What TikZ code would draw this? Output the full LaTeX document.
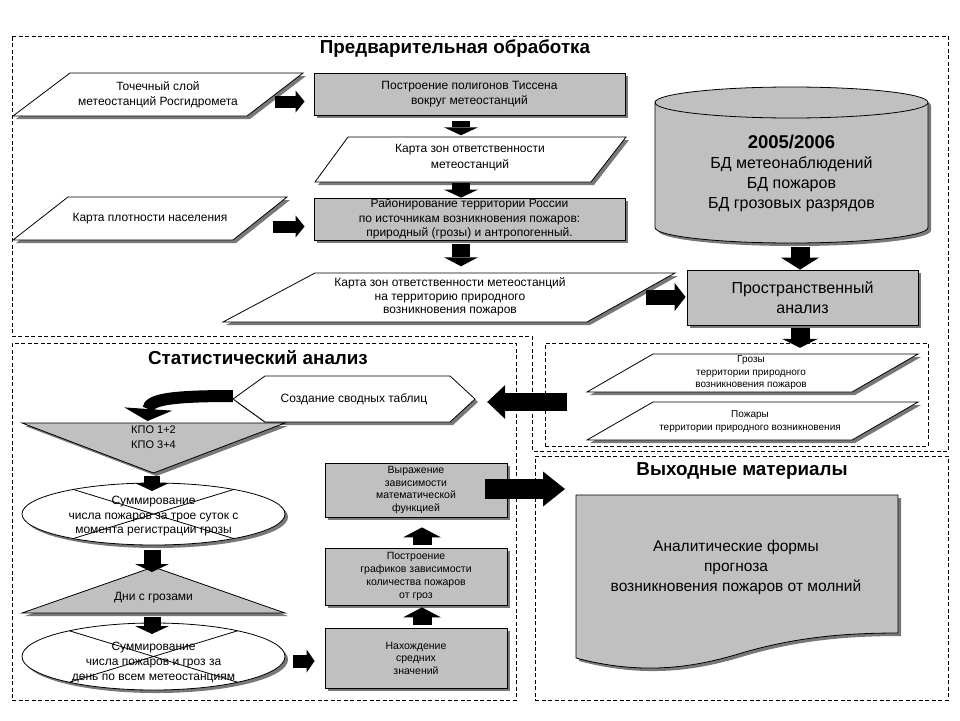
\documentclass[tikz,border=0pt]{standalone}
\usepackage{fontspec}
\setmainfont{Liberation Sans}
\usetikzlibrary{arrows.meta,shadows,shapes.geometric,calc}
\definecolor{boxgrey}{RGB}{192,192,192}
\definecolor{shgrey}{RGB}{120,120,120}
\newcommand\fsz[2]{\fontsize{#1}{#2}\selectfont}
\begin{document}
\begin{tikzpicture}[x=1pt,y=-1pt,
 shd/.style={drop shadow={shadow xshift=3pt,shadow yshift=-3pt,fill=shgrey,opacity=1}},
 gshape/.style={draw=black,line width=0.8pt,fill=boxgrey,shd},
 wshape/.style={draw=black,line width=0.8pt,fill=white,shd},
 gbox/.style={gshape,rectangle,inner sep=0pt,align=center},
 lbl/.style={align=center,inner sep=0pt},
 ghost/.style={inner sep=0pt,outer sep=0pt},
 frame/.style={draw=black,line width=0.8pt,dash pattern=on 4pt off 2.5pt},
 ttl/.style={font=\bfseries\fsz{18.8}{21},inner sep=0pt},
 blk/.style n args={3}{draw=black,line width=#1,-{Triangle[width=#2,length=#3,line width=0pt]}},
]
\useasboundingbox (0,0) rectangle (960,720);
\fill[white] (0,0) rectangle (960,720);

% ---------- frames ----------
\draw[frame] (12,36) -- (948,36) -- (948,451) -- (532,451) -- (532,336) -- (12,336) -- cycle;
\node[frame,ghost,minimum width=504pt,minimum height=357pt] (statf) at (264,521.5) {};
\node[frame,ghost,minimum width=383pt,minimum height=103pt] (grozf) at (736.5,394.5) {};
\node[frame,ghost,minimum width=413pt,minimum height=244pt] (outf) at (741.5,578) {};

% ---------- titles ----------
\node[ttl] (ttlA) at (455,49) {Предварительная обработка};
\node[ttl] (ttlB) at (258,358) {Статистический анализ};
\node[ttl] (ttlC) at (742,471) {Выходные материалы};

% ---------- top section ----------
\filldraw[wshape] (13,116) -- (70,73) -- (303,73) -- (247,116) -- cycle;
\node[lbl,font=\fsz{12}{15},minimum width=233pt,minimum height=43pt] (p1) at (158,95) {Точечный слой\\метеостанций Росгидромета};

\node[gbox,font=\fsz{12}{15},minimum width=311pt,minimum height=42pt] (tis) at (469.5,94) {Построение полигонов Тиссена\\вокруг метеостанций};

\filldraw[wshape] (315,182) -- (348,137) -- (626,137) -- (591,182) -- cycle;
\node[lbl,font=\fsz{12}{16},minimum width=277pt,minimum height=45pt] (p2) at (470,158) {Карта зон ответственности\\метеостанций};

\node[gbox,font=\fsz{12}{14.5},minimum width=311pt,minimum height=42pt] (rai) at (469.5,219) {Районирование территории России\\по источникам возникновения пожаров:\\природный (грозы) и антропогенный.};

\filldraw[wshape] (13,240) -- (68,197) -- (287,197) -- (233,240) -- cycle;
\node[lbl,font=\fsz{12}{15},minimum width=219pt,minimum height=43pt] (p3) at (150,219) {Карта плотности населения};

\filldraw[wshape] (223,322) -- (315,273) -- (675,273) -- (587,322) -- cycle;
\node[lbl,font=\fsz{12}{13.5},minimum width=362pt,minimum height=49pt] (p4) at (450,297) {Карта зон ответственности метеостанций\\на территорию природного\\возникновения пожаров};

\node[gbox,font=\fsz{16}{20},minimum width=231pt,minimum height=55pt] (spa) at (802.5,297.5) {Пространственный\\анализ};

% cylinder
\node[ghost,minimum width=273pt,minimum height=156pt] (dbshape) at (791.5,165) {};
\filldraw[gshape] (655,102.5) -- (655,227.5) .. controls (655,236.06) and (716.1,243) .. (791.5,243) .. controls (866.9,243) and (928,236.06) .. (928,227.5) -- (928,102.5) .. controls (928,93.94) and (866.9,87) .. (791.5,87) .. controls (716.1,87) and (655,93.94) .. (655,102.5) -- cycle;
\draw[line width=0.8pt] (655,102.5) .. controls (655,111.06) and (716.1,118) .. (791.5,118) .. controls (866.9,118) and (928,111.06) .. (928,102.5);
\node[lbl,font=\fsz{16}{20}] (db) at (791.5,173.5) {{\bfseries\fsz{18.5}{20}2005/2006}\\БД метеонаблюдений\\БД пожаров\\БД грозовых разрядов};

% right parallelograms
\filldraw[wshape] (587,392) -- (653,354) -- (918,354) -- (852,392) -- cycle;
\node[lbl,font=\fsz{10}{12.5},minimum width=265pt,minimum height=38pt] (p5) at (751,373) {Грозы\\территории природного\\возникновения пожаров};
\filldraw[wshape] (587,440) -- (653,402) -- (918,402) -- (852,440) -- cycle;
\node[lbl,font=\fsz{10}{13},minimum width=265pt,minimum height=38pt] (p6) at (750,421.5) {Пожары\\территории природного возникновения};

% top arrows
\draw[blk={12pt}{22pt}{9pt},shorten >=9pt] ([yshift=-6.5pt]p1.east) -- ([yshift=-6.5pt]p1.east -| tis.west);
\draw[blk={12pt}{22pt}{9pt},shorten >=9pt] ([xshift=13pt,yshift=-7.5pt]p3.east) -- ([yshift=-7.5pt]p3.east -| rai.west);
\draw[blk={18pt}{34pt}{8pt},shorten <=6pt] ([xshift=-8.5pt]tis.south) -- ([xshift=-8.5pt]tis.south |- p2.north);
\draw[blk={18pt}{34pt}{8pt},shorten <=2pt] ([xshift=-9pt]p2.south) -- ([xshift=-9pt]p2.south |- rai.north);
\draw[blk={18pt}{34pt}{9pt},shorten <=4pt,shorten >=6pt] ([xshift=-8.5pt]rai.south) -- ([xshift=-8.5pt]rai.south |- p4.north);
\draw[blk={15pt}{28pt}{11pt},shorten <=15pt,shorten >=1pt] (p4.east) -- (p4.east -| spa.west);
\draw[blk={19pt}{38pt}{12pt},shorten <=4pt] ([xshift=8.5pt]dbshape.south) -- ([xshift=8.5pt]dbshape.south |- spa.north);
\draw[blk={19pt}{36pt}{9pt},shorten <=3pt,shorten >=6pt] ([xshift=-2.5pt]spa.south) -- ([xshift=-2.5pt]spa.south |- p5.north);

% ---------- statistics section ----------
\filldraw[wshape] (233,399) -- (265,376) -- (450,376) -- (475,399) -- (450,422) -- (265,422) -- cycle;
\node[lbl,font=\fsz{12}{15},minimum width=242pt,minimum height=46pt] (hex) at (354,399) {Создание сводных таблиц};

\node[ghost,minimum width=263pt,minimum height=50pt] (tri1) at (153.5,448) {};
\filldraw[gshape] (tri1.north west) -- (tri1.north east) -- (tri1.south) -- cycle;
\node[lbl,font=\fsz{11}{15}] (kpo) at (153.5,437.5) {КПО 1+2\\КПО 3+4};

\node[wshape,ellipse,ghost,minimum width=263pt,minimum height=62pt] (ell1) at (153.5,514) {};
\draw[line width=0.8pt] (ell1.163) -- (ell1.-17) (ell1.-163) -- (ell1.17);
\node[lbl,font=\fsz{12}{14.5}] (s1) at (153.5,516.5) {Суммирование\\числа пожаров за трое суток с\\момента регистрации грозы};

\node[ghost,minimum width=263pt,minimum height=46pt] (tri2) at (153.5,590) {};
\filldraw[gshape] (tri2.north) -- (tri2.south east) -- (tri2.south west) -- cycle;
\node[lbl,font=\fsz{12}{15}] (dni) at (153.5,598) {Дни с грозами};

\node[wshape,ellipse,ghost,minimum width=263pt,minimum height=67pt] (ell2) at (153.5,656.5) {};
\draw[line width=0.8pt] (ell2.163) -- (ell2.-17) (ell2.-163) -- (ell2.17);
\node[lbl,font=\fsz{12}{15}] (s2) at (153.5,662) {Суммирование\\числа пожаров и гроз за\\день по всем метеостанциям};

\node[gbox,font=\fsz{10.5}{12.5},minimum width=182pt,minimum height=60pt] (nah) at (416,658) {Нахождение\\средних\\значений};
\node[gbox,font=\fsz{10.5}{13},minimum width=182pt,minimum height=57pt] (post) at (416,576.5) {Построение\\графиков зависимости\\количества пожаров\\от гроз};
\node[gbox,font=\fsz{10.5}{12.7},minimum width=182pt,minimum height=54pt] (vyr) at (416,490) {Выражение\\зависимости\\математической\\функцией};

% output document
\node[ghost,minimum width=322pt,minimum height=175pt] (docn) at (737,582.5) {};
\filldraw[gshape] (576,495) -- (898,495) -- (898,633) .. controls (840,633) and (790,638) .. (735,655) .. controls (690,668) and (640,675) .. (576,658) -- cycle;
\node[lbl,font=\fsz{15.5}{20}] (doc) at (736,567) {Аналитические формы\\прогноза\\возникновения пожаров от молний};

% statistics arrows
\draw[blk={18pt}{34pt}{18pt},shorten >=12pt] ([xshift=22pt,yshift=-7.5pt]grozf.west) -- ([yshift=-7.5pt]grozf.west -| hex.east);
\draw[blk={12pt}{48pt}{12pt}] ([yshift=3pt]hex.west) .. controls (175,396) and (149,399) .. ([xshift=-6pt,yshift=2pt]tri1.north);
\draw[blk={16pt}{34pt}{8pt},shorten <=3pt] ([xshift=-1.5pt]tri1.south) -- ([xshift=-1.5pt,yshift=-8pt]ell1.north);
\draw[blk={17pt}{34pt}{8pt},shorten <=5pt] ([xshift=-1.5pt]ell1.south) -- ([xshift=-1.5pt,yshift=-5pt]tri2.north);
\draw[blk={17pt}{34pt}{8pt},shorten <=4pt] ([xshift=-1.5pt]tri2.south) -- ([xshift=-1.5pt,yshift=-11pt]ell2.north);
\draw[blk={13pt}{23pt}{8pt},shorten <=8pt,shorten >=10pt] ([yshift=-4.5pt]ell2.east) -- ([yshift=-4.5pt]ell2.east -| nah.west);
\draw[blk={19pt}{38pt}{10pt},shorten <=3pt,shorten >=2pt] ([xshift=6pt]nah.north) -- ([xshift=6pt]post.south);
\draw[blk={19pt}{38pt}{10pt},shorten <=3pt,shorten >=10pt] ([xshift=6pt]post.north) -- ([xshift=6pt]vyr.south);
\draw[blk={20pt}{35pt}{22pt},shorten >=11pt] ([xshift=-22pt,yshift=1pt]vyr.east) -- ([yshift=1pt]vyr.east -| docn.west);
\end{tikzpicture}
\end{document}
